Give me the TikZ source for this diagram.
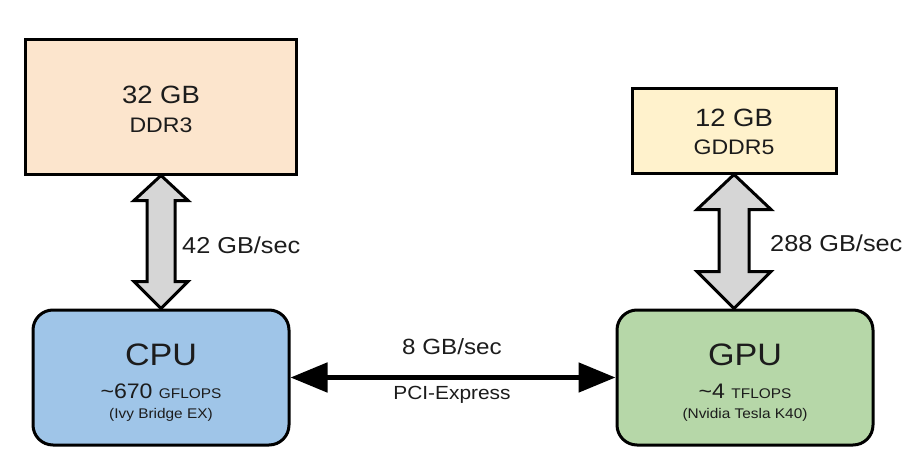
\documentclass[tikz,border=0pt]{standalone}
\usepackage{fontspec}
\setmainfont{Liberation Sans}[FakeStretch=1.1]
\usetikzlibrary{arrows.meta,calc}
\definecolor{ddrc}{HTML}{FCE5CD}
\definecolor{gddrc}{HTML}{FFF2CC}
\definecolor{cpuc}{HTML}{9FC5E8}
\definecolor{gpuc}{HTML}{B6D7A8}
\definecolor{arrc}{HTML}{D6D6D6}
\definecolor{txt}{HTML}{1C1C1C}
\newcommand{\fs}[1]{\fontsize{#1}{#1}\selectfont}
\begin{document}
\begin{tikzpicture}[x=1pt,y=-1pt,
  memory/.style={draw=black,line width=3pt,inner sep=0pt},
  unit/.style={draw=black,line width=3pt,rounded corners=20pt,inner sep=0pt,minimum width=256pt,minimum height=135pt},
  txtnode/.style={text=txt,inner sep=0pt},
  fatarrow/.style={draw=black,fill=arrc,line width=3pt,line join=miter},
  bus/.style={draw=black,line width=5pt,{Triangle[length=37pt,width=29pt]}-{Triangle[length=37pt,width=29pt]}}]
\useasboundingbox (0,0) rectangle (918,468);
\fill[white] (0,0) rectangle (918,468);
% boxes
\node[memory,fill=ddrc,minimum width=271pt,minimum height=134pt] (ddr) at (161,107) {};
\node[memory,fill=gddrc,minimum width=204pt,minimum height=84pt] (gddr) at (734,131) {};
\node[unit,fill=cpuc] (cpu) at (161,377.5) {};
\node[unit,fill=gpuc] (gpu) at (745,377.5) {};
% texts
\node[txtnode] (t32) at (161,95) {\fs{25}32 GB};
\node[txtnode] (tddr) at (161,125) {\fs{21}DDR3};
\node[txtnode] (t12) at (734,118) {\fs{25}12 GB};
\node[txtnode] (tgddr) at (734,147) {\fs{21}GDDR5};
\node[txtnode] (tcpu) at (161,355) {\fs{31}CPU};
\node[txtnode] (tcpuf) at (161,391) {\fs{21}\textasciitilde 670 {\fs{14}GFLOPS}};
\node[txtnode] (tcpun) at (161,415) {\fs{14}(Ivy Bridge EX)};
\node[txtnode] (tgpu) at (745,355) {\fs{31}GPU};
\node[txtnode] (tgpuf) at (745,391) {\fs{21}\textasciitilde 4 {\fs{14}TFLOPS}};
\node[txtnode] (tgpun) at (745,415) {\fs{14}(Nvidia Tesla K40)};
% CPU <-> DDR3
\draw[fatarrow] (ddr.south) -- ($(ddr.south)+(27,25)$) -- ($(ddr.south)+(14,25)$)
  -- ($(cpu.north)+(14,-27)$) -- ($(cpu.north)+(27,-27)$) -- (cpu.north)
  -- ($(cpu.north)+(-27,-27)$) -- ($(cpu.north)+(-14,-27)$)
  -- ($(ddr.south)+(-14,25)$) -- ($(ddr.south)+(-27,25)$) -- cycle;
\coordinate (gtop) at (gddr.south);
\coordinate (gbot) at (gddr.south |- gpu.north);
\draw[fatarrow] (gtop) -- ($(gtop)+(37,35)$) -- ($(gtop)+(15,35)$)
  -- ($(gbot)+(15,-37)$) -- ($(gbot)+(37,-37)$) -- (gbot)
  -- ($(gbot)+(-37,-37)$) -- ($(gbot)+(-15,-37)$)
  -- ($(gtop)+(-15,35)$) -- ($(gtop)+(-37,35)$) -- cycle;
\node[txtnode,anchor=west] (l42) at (182,245) {\fs{23}42 GB/sec};
\node[txtnode,anchor=west] (l288) at (770,243) {\fs{23}288 GB/sec};
% PCI-Express
\draw[bus] (cpu.east) -- (gpu.west);
\node[txtnode] (l8) at (452,347) {\fs{22}8 GB/sec};
\node[txtnode] (lpci) at (452,395) {\fs{19}PCI-Express};
\end{tikzpicture}
\end{document}
